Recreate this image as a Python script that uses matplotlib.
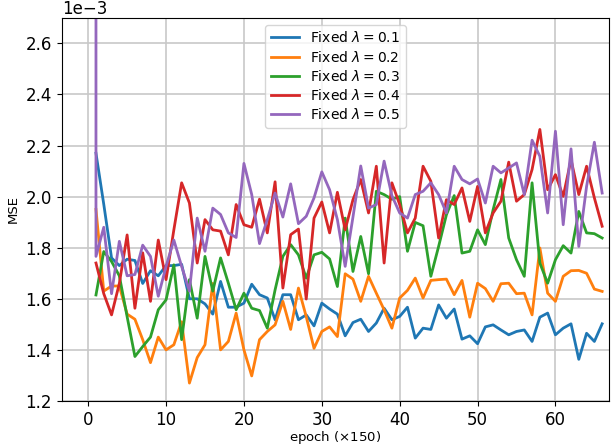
import numpy as np
import matplotlib
matplotlib.use('Agg')
import matplotlib.pyplot as plt

# MSE values in units of 1e-3, one value per epoch (x150)
epochs = np.arange(1, 67)

mse_01 = [2.17, 1.97, 1.76, 1.73, 1.755, 1.75, 1.66, 1.71, 1.69, 1.73,
          1.73, 1.735, 1.60, 1.60, 1.58, 1.54, 1.668, 1.567, 1.567, 1.583,
          1.657, 1.616, 1.603, 1.518, 1.616, 1.616, 1.518, 1.537, 1.494, 1.583,
          1.56, 1.54, 1.455, 1.507, 1.52, 1.472, 1.505, 1.563, 1.518, 1.531,
          1.567, 1.446, 1.485, 1.48, 1.576, 1.524, 1.56, 1.442, 1.455, 1.424,
          1.49, 1.498, 1.478, 1.459, 1.472, 1.478, 1.433, 1.528, 1.544, 1.459,
          1.485, 1.502, 1.363, 1.465, 1.433, 1.502]

mse_02 = [1.95, 1.63, 1.65, 1.65, 1.54, 1.52, 1.44, 1.35, 1.45, 1.40,
          1.42, 1.51, 1.27, 1.37, 1.42, 1.66, 1.40, 1.433, 1.544, 1.40,
          1.298, 1.44, 1.472, 1.498, 1.59, 1.48, 1.642, 1.53, 1.406, 1.472,
          1.49, 1.452, 1.698, 1.677, 1.59, 1.688, 1.622, 1.557, 1.485, 1.603,
          1.633, 1.681, 1.603, 1.672, 1.675, 1.677, 1.616, 1.672, 1.528, 1.661,
          1.64, 1.59, 1.659, 1.661, 1.62, 1.622, 1.537, 1.799, 1.622, 1.59,
          1.688, 1.71, 1.711, 1.70, 1.638, 1.629]

mse_03 = [1.615, 1.785, 1.746, 1.69, 1.53, 1.374, 1.413, 1.45, 1.557, 1.596,
          1.733, 1.44, 1.675, 1.524, 1.766, 1.63, 1.76, 1.661, 1.557, 1.622,
          1.563, 1.554, 1.485, 1.635, 1.766, 1.812, 1.772, 1.681, 1.772, 1.782,
          1.756, 1.648, 1.916, 1.707, 1.844, 1.698, 2.021, 2.008, 1.99, 2.0,
          1.786, 1.899, 1.886, 1.688, 1.805, 1.929, 2.004, 1.779, 1.786, 1.87,
          1.812, 1.949, 2.067, 1.838, 1.753, 1.688, 2.054, 1.74, 1.661, 1.753,
          1.808, 1.779, 1.942, 1.858, 1.855, 1.838]

mse_04 = [1.74, 1.62, 1.537, 1.66, 1.85, 1.563, 1.78, 1.59, 1.83, 1.675,
          1.87, 2.054, 1.975, 1.74, 1.91, 1.87, 1.865, 1.772, 1.969, 1.89,
          1.88, 1.99, 1.858, 2.058, 1.642, 1.851, 1.873, 1.599, 1.916, 1.979,
          1.858, 2.017, 1.87, 1.988, 2.067, 1.936, 2.119, 1.74, 2.054, 1.969,
          1.858, 1.916, 2.119, 2.06, 1.838, 1.988, 1.969, 2.034, 1.903, 2.04,
          1.858, 1.936, 1.982, 2.135, 1.982, 2.008, 2.106, 2.263, 2.027, 2.086,
          2.001, 2.145, 2.008, 2.119, 1.995, 1.884]

# purple run has an extra first reading at epoch 1 (way off the top)
mse_05 = [3.5, 1.766, 1.88, 1.62, 1.825, 1.69, 1.695, 1.81, 1.766, 1.61, 1.727,
          1.83, 1.727, 1.63, 1.916, 1.786, 1.955, 1.93, 1.858, 1.84, 2.13,
          2.008, 1.816, 1.91, 2.014, 1.92, 2.05, 1.894, 1.923, 1.995, 2.097,
          2.027, 1.91, 1.727, 1.92, 2.12, 1.955, 1.969, 2.139, 2.004, 1.936,
          1.916, 2.008, 2.021, 2.054, 2.008, 1.936, 2.119, 2.067, 2.05, 2.069,
          1.975, 2.119, 2.093, 2.112, 2.132, 2.008, 2.221, 2.158, 1.936, 2.256,
          1.89, 2.187, 1.805, 2.04, 2.213, 2.014]
epochs_05 = np.r_[1, epochs]

lambdas = [0.1, 0.2, 0.3, 0.4, 0.5]

fig = plt.figure(figsize=(6.11, 4.46), dpi=100)
ax = fig.add_axes([0.101, 0.101, 0.896, 0.859])

series = [(epochs, mse_01), (epochs, mse_02), (epochs, mse_03),
          (epochs, mse_04), (epochs_05, mse_05)]
for (xx, yy), lam in zip(series, lambdas):
    ax.plot(xx, np.array(yy) * 1e-3, linewidth=2,
            label=r'Fixed $\lambda = %.1f$' % lam)

ax.set_xlim(-3.4, 66.9)
ax.set_ylim(1.2e-3, 2.7e-3)
ax.set_xticks(np.arange(0, 70, 10))
ax.set_yticks(np.arange(1.2e-3, 2.65e-3, 0.2e-3))
ax.ticklabel_format(axis='y', style='sci', scilimits=(0, 0))
ax.tick_params(labelsize=12)
ax.yaxis.get_offset_text().set_fontsize(12)
ax.grid(True, color='#c8c8c8', linewidth=1.2)
ax.set_xlabel(r'epoch ($\times$150)', fontsize=9.5, labelpad=0.5)
ax.set_ylabel('MSE', fontsize=9.5)
ax.legend(loc='upper center', fontsize=10, labelspacing=0.3)

plt.savefig('out.png')
plt.close()
